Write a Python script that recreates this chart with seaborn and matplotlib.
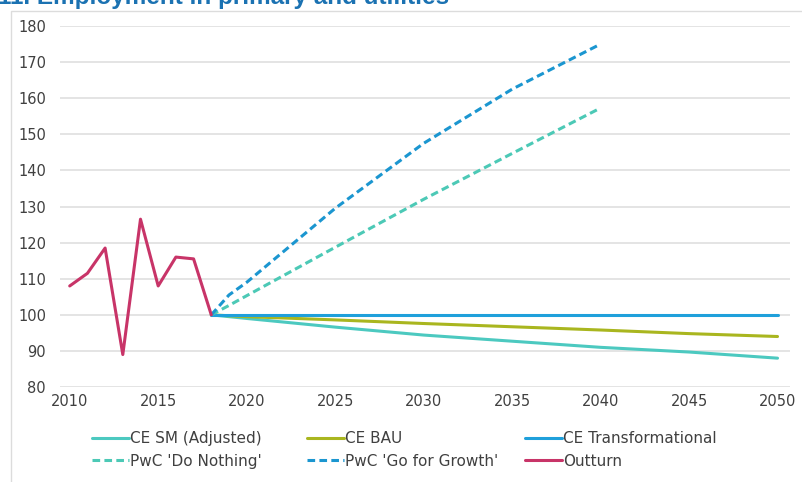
import pandas as pd
import numpy as np
import matplotlib.pyplot as plt
import seaborn as sns
from matplotlib.patches import Rectangle

# Values (index, 2018 = 100)
outturn_years = [2010, 2011, 2012, 2013, 2014, 2015, 2016, 2017, 2018]
outturn = [108, 111.5, 118.5, 89, 126.5, 108, 116, 115.5, 100]

proj_years = [2018, 2020, 2025, 2030, 2035, 2040, 2045, 2050]
ce_sm = [100, 99, 96.6, 94.4, 92.7, 91.0, 89.7, 88.0]
ce_bau = [100, 99.5, 98.6, 97.6, 96.7, 95.8, 94.8, 94.0]
ce_trans = [100, 100, 100, 100, 100, 100, 100, 100]

pwc_years = [2018, 2019, 2020, 2025, 2030, 2035, 2040]
pwc_nothing = [100, 102.6, 105.3, 118.7, 132.0, 144.7, 157.3]
pwc_growth = [100, 105.5, 109, 129.5, 147.5, 162.5, 175]

names = ["CE SM (Adjusted)", "CE BAU", "CE Transformational",
         "PwC 'Do Nothing'", "PwC 'Go for Growth'", "Outturn"]
colors = ["#4cc9c0", "#a9b61f", "#1fa0db", "#4cc9b6", "#1b96d0", "#c83468"]

frames = []
for name, yrs, vals in [(names[0], proj_years, ce_sm),
                        (names[1], proj_years, ce_bau),
                        (names[2], proj_years, ce_trans),
                        (names[3], pwc_years, pwc_nothing),
                        (names[4], pwc_years, pwc_growth),
                        (names[5], outturn_years, outturn)]:
    frames.append(pd.DataFrame({"year": yrs, "value": vals, "series": name}))
df = pd.concat(frames, ignore_index=True)

sns.set_style("white")
plt.rcParams['font.family'] = ['DejaVu Sans']

fig = plt.figure(figsize=(8.03, 4.82), dpi=100)
ax = fig.add_axes([0.0747, 0.197, 0.909, 0.749])

dashes = {n: "" for n in names}
dashes[names[3]] = (2.5, 1.4)
dashes[names[4]] = (2.5, 1.4)

sns.lineplot(data=df, x="year", y="value", hue="series", style="series",
             hue_order=names, style_order=names,
             palette=dict(zip(names, colors)), dashes=dashes,
             linewidth=2.2, ax=ax, legend=True)

ax.set_xlim(2009.45, 2050.7)
ax.set_ylim(80, 180)
ax.set_xticks(range(2010, 2051, 5))
ax.set_yticks(range(80, 181, 10))
ax.yaxis.grid(True, color="#dddddd", linewidth=1.1)
ax.xaxis.grid(False)
for s in ax.spines.values():
    s.set_visible(False)
ax.set_xlabel("")
ax.set_ylabel("")
ax.tick_params(axis="both", labelsize=10.5, labelcolor="#404040", length=0)
ax.tick_params(axis="y", pad=10)
ax.tick_params(axis="x", pad=5)

# legend: three columns placed like the source (row-major order)
handles, labels = ax.get_legend_handles_labels()
ax.get_legend().remove()
lookup = dict(zip(labels, handles))
col_x = [92, 307, 525]
for i, x in enumerate(col_x):
    pair = [names[i], names[i + 3]]
    leg = fig.legend([lookup[n] for n in pair], pair, loc="upper left",
                     bbox_to_anchor=(x / 803, 1 - 431 / 482), frameon=False,
                     fontsize=11, handlelength=2.4, handletextpad=0.1,
                     borderpad=0, borderaxespad=0, labelspacing=0.5,
                     labelcolor="#404040")

# light frame around the chart
fig.patches.append(Rectangle((11 / 803, -0.01), 1.0, 1 - 11 / 482 + 0.01,
                             transform=fig.transFigure, fill=False,
                             edgecolor="#dcdcdc", linewidth=1.0))

# title, cut off at the top edge as in the source
fig.text(-0.002, 1 - 4 / 482, "11. Employment in primary and utilities",
         fontsize=17.5, fontweight="bold", color="#1b72b2", va="baseline",
         family="Liberation Sans")

fig.savefig("out.png", dpi=100)
